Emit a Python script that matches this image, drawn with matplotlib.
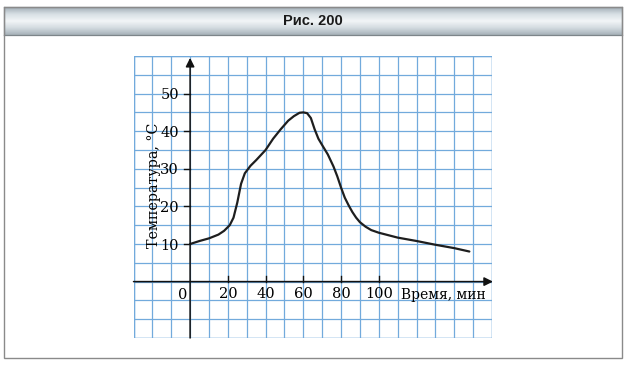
import numpy as np
import matplotlib
matplotlib.use('Agg')
import matplotlib.pyplot as plt
from matplotlib.colors import LinearSegmentedColormap
from matplotlib.patches import Rectangle
from matplotlib.ticker import MultipleLocator, FixedLocator

# temperature curve
time_min = [0, 5, 10, 15, 18, 21, 23, 25, 27, 29, 32, 35, 40, 44, 48, 52, 55, 58, 60, 62,
            64, 66, 68, 70, 73, 76, 78, 80, 82, 84, 86, 88, 90, 93, 96, 100, 110, 120, 130, 140, 148]
temp_c = [10, 10.8, 11.5, 12.5, 13.5, 15, 17, 21, 26, 28.8, 30.8, 32.3, 35, 38, 40.5, 42.8, 44, 44.9, 45, 44.8,
          43.5, 40.5, 38, 36.3, 33.8, 30.6, 28, 25, 22.3, 20.3, 18.5, 17, 15.8, 14.6, 13.7, 13, 11.7, 10.8, 9.8, 8.9, 8]

x_ticks = [20, 40, 60, 80, 100]
y_ticks = [10, 20, 30, 40, 50]
title = 'Рис. 200'
xlabel = 'Время, мин'
ylabel = 'Температура, °С'

grid_col = '#72aadc'
serif = ['DejaVu Serif']

fig = plt.figure(figsize=(6.31, 3.66), dpi=100)
W, H = 631, 366

# outer frame of the figure box
fig.add_artist(Rectangle((4 / W, 1 - 358 / H), (622 - 4) / W, (358 - 7) / H,
                         transform=fig.transFigure, fill=False, ec='#8a8a8a', lw=1.0))

# gray header band with the caption
band = fig.add_axes([4 / W, 1 - 35 / H, (622 - 4) / W, 28 / H])
cmap = LinearSegmentedColormap.from_list('band', ['#a3afb7', '#d8e0e5', '#f2f5f7', '#d3dbe0', '#a7b2b9'])
band.imshow(np.linspace(0, 1, 50).reshape(-1, 1), aspect='auto', cmap=cmap, extent=[0, 1, 0, 1])
band.set_xticks([])
band.set_yticks([])
for s in band.spines.values():
    s.set_color('#7d8589')
    s.set_linewidth(0.9)
band.text(0.5, 0.5, title, ha='center', va='center', fontsize=10.5, fontweight='bold',
          family='Liberation Sans', color='#1a1a1a', transform=band.transAxes)

# graph paper area
ax = fig.add_axes([133.5 / W, 1 - 338 / H, (492 - 133.5) / W, (338 - 56) / H])
ax.set_xlim(-30, 160)
ax.set_ylim(-15, 60)

# move tick labels to the drawn axes at zero
ax.spines['bottom'].set_position(('data', 0))
ax.spines['left'].set_position(('data', 0))
for s in ax.spines.values():
    s.set_visible(False)

ax.xaxis.set_minor_locator(MultipleLocator(10))
ax.yaxis.set_minor_locator(MultipleLocator(5))
ax.grid(which='both', color=grid_col, lw=0.9)
ax.set_axisbelow(True)
ax.add_patch(Rectangle((0, 0), 1, 1, transform=ax.transAxes, fill=False, ec=grid_col, lw=1.0))

ax.xaxis.set_major_locator(FixedLocator(x_ticks))
ax.yaxis.set_major_locator(FixedLocator(y_ticks))
ax.set_xticklabels([str(v) for v in x_ticks], family=serif, fontsize=10.5)
ax.set_yticklabels([str(v) for v in y_ticks], family=serif, fontsize=10.5)
ax.tick_params(which='minor', length=0)
ax.tick_params(axis='x', which='major', length=0, pad=4)
ax.tick_params(axis='y', which='major', length=0, pad=8)

# axis lines with arrows
ax.annotate('', xy=(160.5, 0), xytext=(-30, 0),
            arrowprops=dict(arrowstyle='-|>', color='#111111', lw=1.1, mutation_scale=13,
                            shrinkA=0, shrinkB=0), annotation_clip=False)
ax.annotate('', xy=(0, 59.5), xytext=(0, -15),
            arrowprops=dict(arrowstyle='-|>', color='#111111', lw=1.1, mutation_scale=13,
                            shrinkA=0, shrinkB=0), annotation_clip=False)

# short tick marks on the axes
for v in x_ticks:
    ax.plot([v, v], [0, 1.4], color='#111111', lw=1.0)
for v in y_ticks:
    ax.plot([-3.5, 0], [v, v], color='#111111', lw=1.0)

ax.text(-4, -1.6, '0', ha='center', va='top', family=serif, fontsize=10.5)
ax.text(112, -1.6, xlabel, ha='left', va='top', family=serif, fontsize=10)
ax.text(-19, 25.5, ylabel, ha='center', va='center', rotation=90, family=serif, fontsize=10.3)

ax.plot(time_min, temp_c, color='#1e1e1e', lw=1.6, solid_capstyle='round')

fig.savefig('out.png', dpi=100)
